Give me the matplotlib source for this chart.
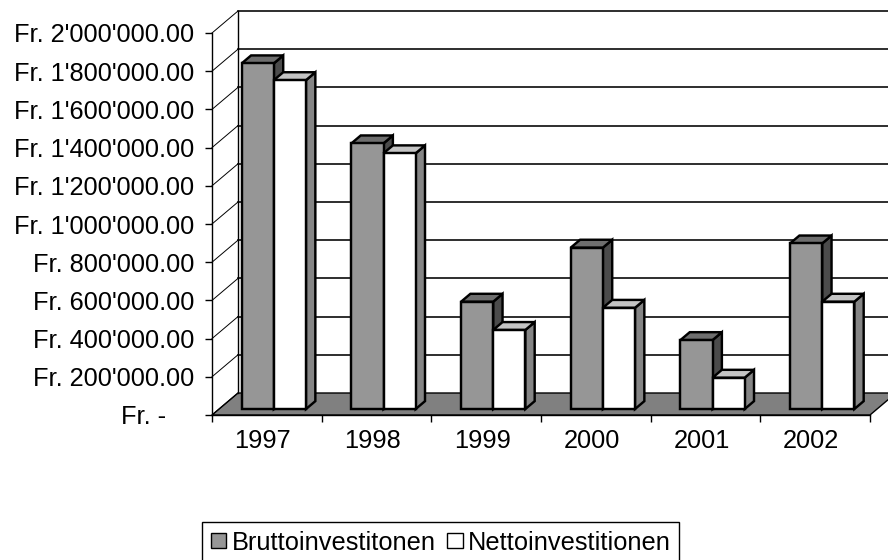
import matplotlib
matplotlib.use("Agg")
import matplotlib.pyplot as plt
from matplotlib.patches import Polygon, Patch
from matplotlib.lines import Line2D
from matplotlib.transforms import ScaledTranslation

plt.rcParams['font.family'] = ['Liberation Sans', 'DejaVu Sans']

# ---- data ----
years = ['1997', '1998', '1999', '2000', '2001', '2002']
brutto = [1810000, 1391000, 562000, 845000, 361000, 867000]
netto = [1722000, 1339000, 414000, 530000, 164000, 562000]
series_names = ['Bruttoinvestitonen', 'Nettoinvestitionen']
y_tick_values = [0, 200000, 400000, 600000, 800000, 1000000, 1200000,
                 1400000, 1600000, 1800000, 2000000]
y_tick_labels = ["Fr. -    ", "Fr. 200'000.00", "Fr. 400'000.00", "Fr. 600'000.00",
                 "Fr. 800'000.00", "Fr. 1'000'000.00", "Fr. 1'200'000.00",
                 "Fr. 1'400'000.00", "Fr. 1'600'000.00", "Fr. 1'800'000.00",
                 "Fr. 2'000'000.00"]

# ---- style ----
W, H = 888, 560
FS = 18.3
gray_front, gray_top, gray_side = '#969696', '#6e6e6e', '#4b4b4b'
white_front, white_top, white_side = '#ffffff', '#c4c4c4', '#858585'
floor_col = '#808080'

fig = plt.figure(figsize=(W / 100, H / 100), dpi=100)
ax = fig.add_axes([212 / W, (H - 415) / H, 658 / W, 382 / H])
n = len(years)
ymax = y_tick_values[-1]
ax.set_xlim(0, n)
ax.set_ylim(0, ymax)

# depth offset of back wall, in data units
px_x = 658 / n
px_y = 382 / ymax
DX = 26 / px_x
DY = 22 / px_y

# floor
ax.add_patch(Polygon([(0, 0), (n, 0), (n + DX, DY), (DX, DY)], closed=True,
                     facecolor=floor_col, edgecolor='black', lw=1.0,
                     clip_on=False, zorder=1))
# back wall gridlines and left wall diagonals
for v in y_tick_values:
    if v > 0:
        ax.add_line(Line2D([DX, n + DX + 0.5], [v + DY, v + DY], color='black',
                           lw=1.15, clip_on=False, zorder=1.5))
    ax.add_line(Line2D([0, DX], [v, v + DY], color='black', lw=0.7,
                       clip_on=False, zorder=1.5))
ax.add_line(Line2D([DX, DX], [DY, ymax + DY], color='black', lw=1.0,
                   clip_on=False, zorder=1.5))

# bars
bw = 0.293
f0, fd = 0.27, 0.36
ox, oy = f0 * DX, f0 * DY
dx, dy = fd * DX, fd * DY


def box(x0, x1, top, cf, ct, cs, z):
    kw = dict(closed=True, edgecolor='black', lw=1.75, joinstyle='miter',
              clip_on=False, zorder=z)
    front = [(x0 + ox, oy), (x1 + ox, oy), (x1 + ox, top + oy), (x0 + ox, top + oy)]
    topf = [(x0 + ox, top + oy), (x1 + ox, top + oy),
            (x1 + ox + dx, top + oy + dy), (x0 + ox + dx, top + oy + dy)]
    side = [(x1 + ox, oy), (x1 + ox + dx, oy + dy),
            (x1 + ox + dx, top + oy + dy), (x1 + ox, top + oy)]
    ax.add_patch(Polygon(side, facecolor=cs, **kw))
    ax.add_patch(Polygon(topf, facecolor=ct, **kw))
    ax.add_patch(Polygon(front, facecolor=cf, **kw))


for i in range(n):
    c = i + 0.5
    box(c - bw, c, brutto[i], gray_front, gray_top, gray_side, 3 + i * 2)
    box(c, c + bw, netto[i], white_front, white_top, white_side, 4 + i * 2)

# axes / spines
for s in ['top', 'right']:
    ax.spines[s].set_visible(False)
ax.spines['left'].set_linewidth(1.0)
ax.spines['bottom'].set_linewidth(1.0)
ax.spines['left'].set_zorder(2)
ax.spines['bottom'].set_zorder(2)
ax.patch.set_visible(False)

ax.set_yticks(y_tick_values)
ax.set_yticklabels(y_tick_labels)
ax.tick_params(axis='y', direction='out', length=5, width=1, pad=8,
               labelsize=FS, colors='black')
ax.set_xticks(range(n + 1))
ax.set_xticklabels([])
ax.tick_params(axis='x', which='major', direction='out', length=5, width=1)
ax.set_xticks([i + 0.5 for i in range(n)], minor=True)
ax.set_xticklabels(years, minor=True)
ax.tick_params(axis='x', which='minor', length=0, pad=10, labelsize=FS)
shift = ScaledTranslation(-4 / 100, 0, fig.dpi_scale_trans)
for lab in ax.xaxis.get_minorticklabels():
    lab.set_transform(lab.get_transform() + shift)

# legend
handles = [Patch(facecolor=gray_front, edgecolor='black', lw=1.0),
           Patch(facecolor='white', edgecolor='black', lw=1.0)]
leg = fig.legend(handles, series_names, loc='upper left',
                 bbox_to_anchor=(202 / W, 1 - 522 / H),
                 bbox_transform=fig.transFigure, ncol=2, fontsize=FS,
                 frameon=True, fancybox=False, framealpha=1, edgecolor='black',
                 borderpad=0.34, handlelength=0.62, handleheight=0.55,
                 handletextpad=0.2, columnspacing=0.45, borderaxespad=0)
leg.get_frame().set_linewidth(1.0)

fig.savefig('out.png', dpi=100)
